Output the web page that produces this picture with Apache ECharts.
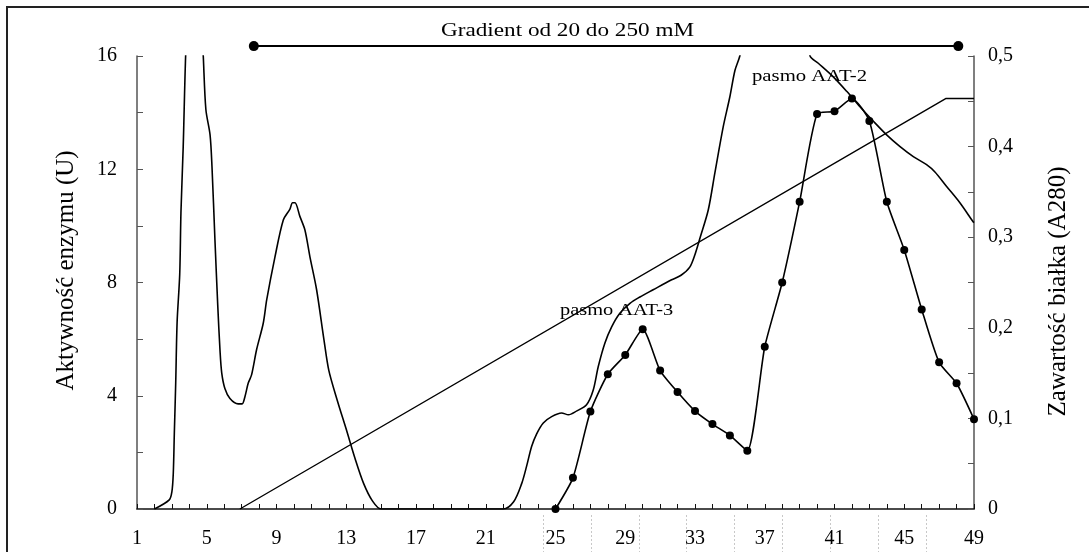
<!DOCTYPE html>
<html>
<head>
<meta charset="utf-8">
<script src="https://cdn.jsdelivr.net/npm/echarts@6/dist/echarts.min.js"></script>
<style>
html,body{margin:0;padding:0;background:#fff;}
#c{width:1089px;height:552px;}
</style>
</head>
<body>
<div id="c"></div>
<script>
// ---- data ----
var xTickLabels = [1, 5, 9, 13, 17, 21, 25, 29, 33, 37, 41, 45, 49];
var leftTickLabels = [0, 4, 8, 12, 16];
var rightTickLabels = [0, 0.1, 0.2, 0.3, 0.4, 0.5];

// enzyme activity (U), fractions 25..49
var activityFractions = [25,26,27,28,29,30,31,32,33,34,35,36,37,38,39,40,41,42,43,44,45,46,47,48,49];
var activityValues = [0,1.1,3.44,4.76,5.44,6.35,4.89,4.13,3.46,3.0,2.6,2.06,5.73,8.0,10.85,13.95,14.05,14.5,13.7,10.85,9.15,7.05,5.18,4.44,3.17];

// protein content A280 (trace)
var proteinX = [2.0,2.85,3.0,3.08,3.14,3.22,3.3,3.45,3.52,3.65,3.8,4.0,4.3,4.6,4.8,4.95,5.19,5.3,5.47,5.63,5.76,5.86,6.04,6.33,6.8,7.03,7.19,7.38,7.57,7.86,8.24,8.44,8.91,9.39,9.77,9.92,10.06,10.34,10.63,10.92,11.3,11.72,12.0,12.5,13.0,13.5,14.0,14.5,15.0,22.0,22.6,23.06,23.34,23.63,23.92,24.3,24.78,25.35,25.74,26.2,26.78,27.16,27.45,27.83,28.22,28.69,29.27,29.84,30.6,31.66,32.2,32.7,33.0,33.3,33.76,34.14,34.62,35.0,35.29,35.57,36.5,37.5,38.5,39.6,40.07,40.93,41.7,42.46,43.23,43.99,44.76,45.52,46.28,46.76,47.43,48.19,48.95,49.0];
var proteinA280 = [0,0.010,0.019,0.039,0.083,0.139,0.206,0.259,0.327,0.400,0.506,0.578,0.609,0.578,0.500,0.441,0.413,0.378,0.297,0.225,0.175,0.150,0.133,0.122,0.116,0.116,0.124,0.139,0.148,0.176,0.205,0.231,0.278,0.319,0.331,0.338,0.338,0.323,0.308,0.278,0.242,0.187,0.153,0.119,0.088,0.056,0.028,0.009,0,0,0.008,0.028,0.047,0.069,0.083,0.095,0.102,0.106,0.104,0.108,0.115,0.131,0.157,0.183,0.201,0.216,0.227,0.234,0.242,0.253,0.258,0.267,0.281,0.300,0.330,0.371,0.422,0.455,0.484,0.500,0.580,0.610,0.590,0.500,0.492,0.477,0.461,0.444,0.428,0.413,0.400,0.389,0.380,0.372,0.356,0.338,0.317,0.316];

// salt gradient line (drawn on left scale)
var gradientX = [6.9, 47.4, 49];
var gradientY = [0, 14.5, 14.5];

// gradient bar above the plot (fraction range)
var gradientBarX = [7.7, 48.1];
var gradientBarLevel = 16.35;

var labelAAT3 = 'pasmo AAT-3';
var labelAAT2 = 'pasmo AAT-2';
var gradientTitle = 'Gradient od 20 do 250 mM';

function zip(a, b) { return a.map(function (v, i) { return [v, b[i]]; }); }

var FONT = '"Liberation Serif", "DejaVu Serif", serif';
var chart = echarts.init(document.getElementById('c'), null, {renderer: 'canvas'});

var dashLines = [];
for (var i = 0; i < 9; i++) {
  var xx = Math.round(542.7 + i * 47.9) + 0.5;
  dashLines.push({
    type: 'line', silent: true,
    shape: {x1: xx, y1: 515, x2: xx, y2: 552},
    style: {stroke: '#c8c8c8', lineWidth: 1, lineDash: [2, 2]}
  });
}

var option = {
  backgroundColor: '#fff',
  animation: false,
  grid: {left: 137, right: 115, top: 56, bottom: 43, containLabel: false},
  xAxis: {
    type: 'value', min: 1, max: 49, interval: 1,
    axisLine: {show: true, lineStyle: {color: '#111', width: 1.5}},
    axisTick: {show: true, inside: true, length: 5, lineStyle: {color: '#111', width: 1}},
    splitLine: {show: false},
    axisLabel: {
      show: true, margin: 20, color: '#000', fontFamily: FONT, fontSize: 20,
      formatter: function (v) { return xTickLabels.indexOf(v) >= 0 ? String(v) : ''; }
    }
  },
  yAxis: [{
    type: 'value', min: 0, max: 16, interval: 2, position: 'left',
    name: 'Aktywność enzymu (U)', nameLocation: 'middle', nameRotate: 90, nameGap: 58,
    nameTextStyle: {color: '#000', fontFamily: FONT, fontSize: 25, padding: [0, 0, 0, 24]},
    axisLine: {show: true, lineStyle: {color: '#555', width: 1.5}},
    axisTick: {show: true, inside: true, length: 6, lineStyle: {color: '#555', width: 1}},
    splitLine: {show: false},
    axisLabel: {
      margin: 20, color: '#000', fontFamily: FONT, fontSize: 20,
      formatter: function (v) { return leftTickLabels.indexOf(v) >= 0 ? String(v) : ''; }
    }
  }, {
    type: 'value', min: 0, max: 0.5, interval: 0.05, position: 'right',
    name: 'Zawartość białka (A280)', nameLocation: 'middle', nameRotate: 90, nameGap: 72,
    nameTextStyle: {color: '#000', fontFamily: FONT, fontSize: 25, padding: [0, 18, 0, 0]},
    axisLine: {show: true, lineStyle: {color: '#555', width: 1.5}},
    axisTick: {show: true, inside: true, length: 6, lineStyle: {color: '#555', width: 1}},
    splitLine: {show: false},
    axisLabel: {
      margin: 14, color: '#000', fontFamily: FONT, fontSize: 20,
      formatter: function (v) {
        var r = Math.round(v * 100) / 100;
        for (var k = 0; k < rightTickLabels.length; k++) {
          if (Math.abs(rightTickLabels[k] - r) < 1e-6) return String(rightTickLabels[k]).replace('.', ',');
        }
        return '';
      }
    }
  }],
  series: [{
    name: 'protein', type: 'line', yAxisIndex: 1, symbol: 'none', smooth: 0.3,
    lineStyle: {color: '#000', width: 1.6}, data: zip(proteinX, proteinA280), z: 3
  }, {
    name: 'gradient', type: 'line', yAxisIndex: 0, symbol: 'none',
    lineStyle: {color: '#000', width: 1.4}, data: zip(gradientX, gradientY), z: 3
  }, {
    name: 'activity', type: 'line', yAxisIndex: 0, symbol: 'circle', symbolSize: 8, smooth: 0.2,
    itemStyle: {color: '#000'}, lineStyle: {color: '#000', width: 1.6},
    data: zip(activityFractions, activityValues), z: 4
  }, {
    name: 'gradientBar', type: 'line', yAxisIndex: 0, symbol: 'circle', symbolSize: 10, clip: false,
    itemStyle: {color: '#000'}, lineStyle: {color: '#000', width: 2},
    data: gradientBarX.map(function (x) { return [x, gradientBarLevel]; }), z: 5
  }],
  graphic: [{
    type: 'rect', silent: true, z: -1,
    shape: {x: 7, y: 7, width: 1200, height: 700},
    style: {fill: 'none', stroke: '#222', lineWidth: 2}
  }, {
    type: 'text', x: 441, y: 31, scaleX: 1.22,
    style: {text: gradientTitle, font: '19px ' + FONT, fill: '#000', textAlign: 'left', textVerticalAlign: 'middle'}
  }, {
    type: 'text', x: 560, y: 311, scaleX: 1.2,
    style: {text: labelAAT3, font: '17px ' + FONT, fill: '#000', textAlign: 'left', textVerticalAlign: 'middle'}
  }, {
    type: 'text', x: 752, y: 77, scaleX: 1.22,
    style: {text: labelAAT2, font: '17px ' + FONT, fill: '#000', textAlign: 'left', textVerticalAlign: 'middle'}
  }].concat(dashLines)
};
chart.setOption(option);
</script>
</body>
</html>
